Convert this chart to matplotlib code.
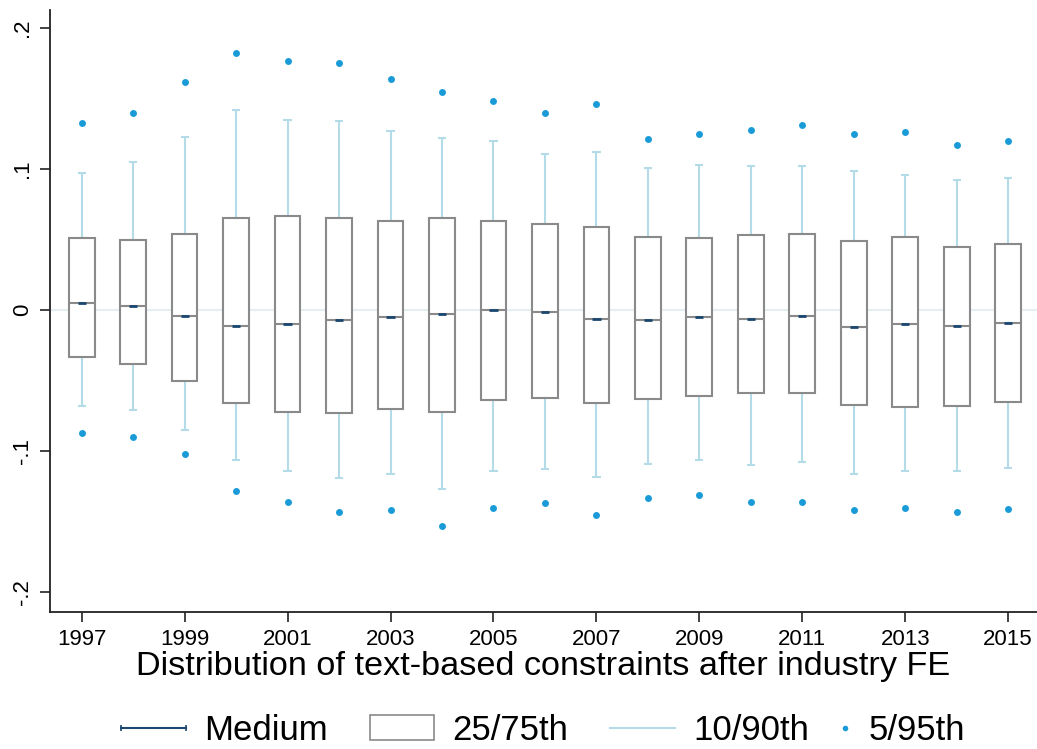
import numpy as np
from matplotlib import pyplot as plt
from matplotlib.lines import Line2D
from matplotlib.patches import Patch
from matplotlib.legend_handler import HandlerLine2D

# years and percentiles
years = [1997, 1998, 1999, 2000, 2001, 2002, 2003, 2004, 2005, 2006,
         2007, 2008, 2009, 2010, 2011, 2012, 2013, 2014, 2015]
p5 = [-0.087, -0.090, -0.102, -0.128, -0.136, -0.143, -0.142, -0.153, -0.140, -0.137,
      -0.145, -0.133, -0.131, -0.136, -0.136, -0.142, -0.140, -0.143, -0.141]
p10 = [-0.068, -0.071, -0.085, -0.106, -0.114, -0.119, -0.116, -0.127, -0.114, -0.113,
       -0.118, -0.109, -0.106, -0.110, -0.108, -0.116, -0.114, -0.114, -0.112]
p25 = [-0.033, -0.038, -0.050, -0.066, -0.072, -0.073, -0.070, -0.072, -0.064, -0.062,
       -0.066, -0.063, -0.061, -0.059, -0.059, -0.067, -0.069, -0.068, -0.065]
med = [0.005, 0.003, -0.004, -0.011, -0.010, -0.007, -0.005, -0.003, 0.000, -0.001,
       -0.006, -0.007, -0.005, -0.006, -0.004, -0.012, -0.010, -0.011, -0.009]
p75 = [0.051, 0.050, 0.054, 0.065, 0.067, 0.065, 0.063, 0.065, 0.063, 0.061,
       0.059, 0.052, 0.051, 0.053, 0.054, 0.049, 0.052, 0.045, 0.047]
p90 = [0.097, 0.105, 0.123, 0.142, 0.135, 0.134, 0.127, 0.122, 0.120, 0.111,
       0.112, 0.101, 0.103, 0.102, 0.102, 0.099, 0.096, 0.092, 0.094]
p95 = [0.133, 0.140, 0.162, 0.182, 0.177, 0.175, 0.164, 0.155, 0.148, 0.140,
       0.146, 0.121, 0.125, 0.128, 0.131, 0.125, 0.126, 0.117, 0.120]

xticks = [1997, 1999, 2001, 2003, 2005, 2007, 2009, 2011, 2013, 2015]
yticks = [-0.2, -0.1, 0, 0.1, 0.2]
ylabels = ['-.2', '-.1', '0', '.1', '.2']
title = 'Distribution of text-based constraints after industry FE'
legend_labels = ['Medium', '25/75th', '10/90th', '5/95th']

# colours
box_col = '#8a8a8a'
whisk_col = '#b3dbe8'
dot_col = '#1a9bd7'
med_col = '#1a476f'
zero_col = '#e6eef2'

plt.rcParams['font.family'] = ['Liberation Sans', 'DejaVu Sans']

fig = plt.figure(figsize=(10.37, 7.49), dpi=100)
ax = fig.add_axes([0.048, 0.183, 0.952, 0.804])

# zero reference line
ax.axhline(0, color=zero_col, lw=1.5, zorder=0)

x = np.array(years)
bw = 0.5  # box width in years
cap = 0.08  # half width of whisker caps

# whiskers 10/90 with small caps
ax.vlines(x, p75, p90, color=whisk_col, lw=1.5, zorder=1)
ax.vlines(x, p10, p25, color=whisk_col, lw=1.5, zorder=1)
ax.hlines(p90, x - cap, x + cap, color=whisk_col, lw=1.5, zorder=1)
ax.hlines(p10, x - cap, x + cap, color=whisk_col, lw=1.5, zorder=1)

# boxes 25/75
ax.bar(x, np.array(p75) - np.array(p25), bottom=p25, width=bw,
       facecolor='white', edgecolor=box_col, lw=1.5, zorder=2)
# median line through the box, plus small dark mark in the middle
ax.hlines(med, x - bw / 2, x + bw / 2, color=box_col, lw=1.5, zorder=3)
ax.hlines(med, x - 0.08, x + 0.08, color=med_col, lw=2, zorder=4)

# 5/95 dots
ax.plot(x, p5, 'o', color=dot_col, ms=5, mec='none', zorder=5)
ax.plot(x, p95, 'o', color=dot_col, ms=5, mec='none', zorder=5)

ax.set_xlim(1996.38, 2015.56)
ax.set_ylim(-0.214, 0.213)
ax.set_xticks(xticks)
ax.set_xticklabels([str(t) for t in xticks], fontsize=16)
ax.set_yticks(yticks)
ax.set_yticklabels(ylabels, fontsize=16, rotation=90, va='center')
ax.tick_params(axis='both', direction='out', length=7, width=1.2, colors='#222222',
               labelcolor='black')
ax.tick_params(axis='x', pad=5)
ax.tick_params(axis='y', pad=5)

for s in ['top', 'right']:
    ax.spines[s].set_visible(False)
for s in ['left', 'bottom']:
    ax.spines[s].set_linewidth(1.3)
    ax.spines[s].set_color('#222222')

ax.set_xlabel(title, fontsize=24.7, labelpad=1)

# legend below the plot: first three keys, then the dot key on its own
med_h = Line2D([], [], color=med_col, lw=1.5, marker='|', ms=5, mew=1.2)
box_h = Patch(facecolor='white', edgecolor=box_col, lw=1.2)
whisk_h = Line2D([], [], color=whisk_col, lw=1.5)
dot_h = Line2D([], [], ls='none', marker='o', ms=4, color=dot_col, mec='none')

leg1 = fig.legend([med_h, box_h, whisk_h], legend_labels[:3], loc='center left',
                  bbox_to_anchor=(0.1002, 0.025), ncol=3, frameon=False, fontsize=25,
                  handlelength=1.87, handletextpad=0.52, columnspacing=1.2, borderpad=0,
                  handler_map={med_h: HandlerLine2D(numpoints=2, marker_pad=0)})
fig.legend([dot_h], legend_labels[3:], loc='center left',
           bbox_to_anchor=(0.790, 0.025), frameon=False, fontsize=25,
           handlelength=0.5, handletextpad=0.42, borderpad=0)

fig.savefig('out.png', dpi=100)
